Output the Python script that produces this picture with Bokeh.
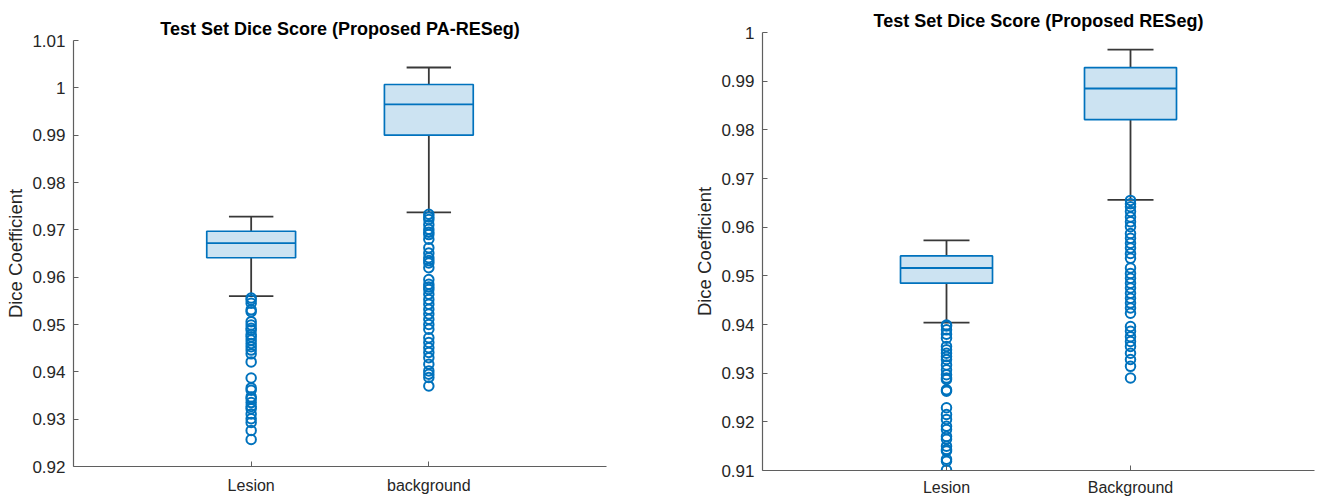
from bokeh.plotting import figure
from bokeh.layouts import row, column
from bokeh.models import Range1d, FixedTicker
from bokeh.embed import file_html
from bokeh.resources import INLINE

# ---------------- data ----------------
positions = [1, 2]
categories_left = ["Lesion", "background"]
categories_right = ["Lesion", "Background"]

# Proposed PA-RESeg  (Lesion, background)
pa_whisker_low = [0.9560, 0.9737]
pa_q1 = [0.9641, 0.9900]
pa_median = [0.9672, 0.9965]
pa_q3 = [0.9697, 1.0007]
pa_whisker_high = [0.9728, 1.0043]
pa_lesion_outliers = [0.9556, 0.9552, 0.9545, 0.9531, 0.9527, 0.9506, 0.9499, 0.9492,
                      0.9488, 0.9479, 0.9474, 0.9467, 0.9460, 0.9453, 0.9446, 0.9438,
                      0.9421, 0.9387, 0.9366, 0.9361, 0.9347, 0.9343, 0.9335, 0.9327,
                      0.9322, 0.9311, 0.9301, 0.9293, 0.9276, 0.9257]
pa_background_outliers = [0.9733, 0.9727, 0.9722, 0.9711, 0.9701, 0.9695, 0.9690, 0.9680,
                          0.9662, 0.9651, 0.9641, 0.9635, 0.9630, 0.9620, 0.9595, 0.9585,
                          0.9579, 0.9574, 0.9564, 0.9553, 0.9543, 0.9532, 0.9522, 0.9511,
                          0.9500, 0.9490, 0.9472, 0.9462, 0.9451, 0.9441, 0.9430, 0.9416,
                          0.9402, 0.9395, 0.9388, 0.9370]

# Proposed RESeg  (Lesion, Background)
re_whisker_low = [0.9404, 0.9656]
re_q1 = [0.9485, 0.9821]
re_median = [0.9516, 0.9885]
re_q3 = [0.9541, 0.9928]
re_whisker_high = [0.9573, 0.9965]
re_lesion_outliers = [0.9399, 0.9397, 0.9389, 0.9380, 0.9372, 0.9355, 0.9348, 0.9341,
                      0.9334, 0.9328, 0.9317, 0.9307, 0.9297, 0.9290, 0.9287, 0.9266,
                      0.9263, 0.9229, 0.9215, 0.9205, 0.9191, 0.9184, 0.9170, 0.9164,
                      0.9150, 0.9143, 0.9140, 0.9123, 0.9119, 0.9101]
re_background_outliers = [0.9655, 0.9648, 0.9642, 0.9632, 0.9621, 0.9611, 0.9601, 0.9587,
                          0.9577, 0.9567, 0.9557, 0.9546, 0.9536, 0.9516, 0.9505, 0.9495,
                          0.9485, 0.9475, 0.9464, 0.9454, 0.9444, 0.9434, 0.9423, 0.9396,
                          0.9386, 0.9375, 0.9365, 0.9355, 0.9341, 0.9328, 0.9314, 0.9290]

yticks_left = [0.92, 0.93, 0.94, 0.95, 0.96, 0.97, 0.98, 0.99, 1.0, 1.01]
ylabels_left = ["0.92", "0.93", "0.94", "0.95", "0.96", "0.97", "0.98", "0.99", "1", "1.01"]
yticks_right = [0.91, 0.92, 0.93, 0.94, 0.95, 0.96, 0.97, 0.98, 0.99, 1.0]
ylabels_right = ["0.91", "0.92", "0.93", "0.94", "0.95", "0.96", "0.97", "0.98", "0.99", "1"]

# ---------------- style ----------------
BLUE = "#0072BD"
WHISKER = "#383838"
AXIS = "#5f5f5f"
TEXT = "#262626"
FONT = "Liberation Sans"
BOX_W = 0.5
CAP_W = 0.25


def make_panel(title, cats, lo, q1, med, q3, hi, outliers, yr, yticks, ylabels,
               width, height, mb_left, mb_right, mb_top, mb_bottom, x_standoff):
    p = figure(width=width, height=height, output_backend="svg", toolbar_location=None,
               x_range=Range1d(0, 3), y_range=Range1d(*yr),
               min_border_left=mb_left, min_border_right=mb_right,
               min_border_top=mb_top, min_border_bottom=mb_bottom)
    p.outline_line_color = None
    p.grid.visible = False
    p.background_fill_color = "white"
    p.border_fill_color = "white"

    p.title.text = title
    p.title.align = "center"
    p.title.text_font = FONT
    p.title.text_font_size = "18px"
    p.title.text_font_style = "bold"
    p.title.text_color = "#000000"
    p.title.standoff = 4

    # whiskers
    p.segment(x0=positions, y0=q3, x1=positions, y1=hi, line_color=WHISKER, line_width=1.8)
    p.segment(x0=positions, y0=lo, x1=positions, y1=q1, line_color=WHISKER, line_width=1.8)
    cx0 = [x - CAP_W / 2 for x in positions]
    cx1 = [x + CAP_W / 2 for x in positions]
    p.segment(x0=cx0, y0=hi, x1=cx1, y1=hi, line_color=WHISKER, line_width=1.8)
    p.segment(x0=cx0, y0=lo, x1=cx1, y1=lo, line_color=WHISKER, line_width=1.8)

    # boxes
    p.vbar(x=positions, width=BOX_W, bottom=q1, top=q3, fill_color=BLUE, fill_alpha=0.2,
           line_color=BLUE, line_width=1.7)
    mx0 = [x - BOX_W / 2 for x in positions]
    mx1 = [x + BOX_W / 2 for x in positions]
    p.segment(x0=mx0, y0=med, x1=mx1, y1=med, line_color=BLUE, line_width=1.9)

    # outliers
    for pos, vals in zip(positions, outliers):
        p.scatter(x=[pos] * len(vals), y=vals, marker="circle", size=9.5,
                  fill_color=None, line_color=BLUE, line_width=2)

    # axes
    p.xaxis.ticker = FixedTicker(ticks=positions)
    p.xaxis.major_label_overrides = {pos: c for pos, c in zip(positions, cats)}
    p.yaxis.ticker = FixedTicker(ticks=yticks)
    p.yaxis.major_label_overrides = {t: l for t, l in zip(yticks, ylabels)}
    p.yaxis.axis_label = "Dice Coefficient"
    for ax in (p.xaxis, p.yaxis):
        ax.axis_line_color = AXIS
        ax.axis_line_width = 1.2
        ax.major_tick_line_color = AXIS
        ax.major_tick_in = 5
        ax.major_tick_out = 0
        ax.minor_tick_line_color = None
        ax.major_label_text_font = FONT
        ax.major_label_text_color = TEXT
    p.xaxis.major_label_text_font_size = "16px"
    p.yaxis.major_label_text_font_size = "17px"
    p.xaxis.major_label_standoff = x_standoff
    p.yaxis.major_label_standoff = 8
    p.yaxis.axis_label_standoff = 3
    p.yaxis.axis_label_text_font = FONT
    p.yaxis.axis_label_text_font_size = "18.5px"
    p.yaxis.axis_label_text_font_style = "normal"
    p.yaxis.axis_label_text_color = TEXT
    return p


left = make_panel("Test Set Dice Score (Proposed PA-RESeg)", categories_left,
                  pa_whisker_low, pa_q1, pa_median, pa_q3, pa_whisker_high,
                  [pa_lesion_outliers, pa_background_outliers],
                  (yticks_left[0], yticks_left[-1]), yticks_left, ylabels_left,
                  width=690, height=498, mb_left=73, mb_right=84, mb_top=40, mb_bottom=32,
                  x_standoff=10)
right = make_panel("Test Set Dice Score (Proposed RESeg)", categories_right,
                   re_whisker_low, re_q1, re_median, re_q3, re_whisker_high,
                   [re_lesion_outliers, re_background_outliers],
                   (yticks_right[0], yticks_right[-1]), yticks_right, ylabels_right,
                   width=628, height=498, mb_left=72, mb_right=4, mb_top=32, mb_bottom=27,
                   x_standoff=8)

layout = row(column(left), column(right))
open("out.html", "w").write(file_html(layout, INLINE))
